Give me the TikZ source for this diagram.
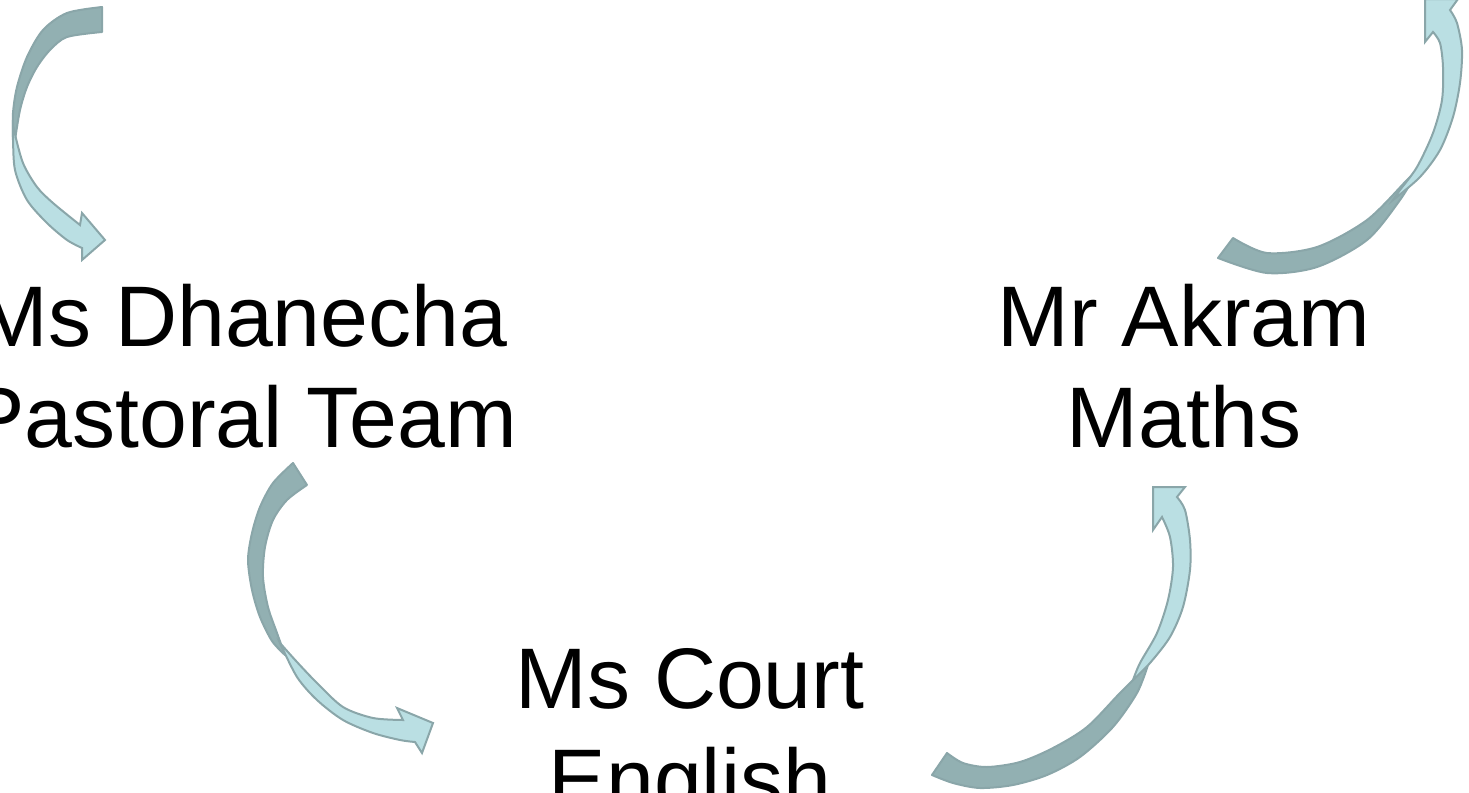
\documentclass[tikz,border=0pt]{standalone}
\usepackage{fontspec}
\setmainfont{Liberation Sans}
\definecolor{bandDark}{RGB}{146,176,178}
\definecolor{bandLight}{RGB}{186,223,227}
\definecolor{bandLine}{RGB}{138,166,169}
\tikzset{
  darkband/.style={fill=bandDark, draw=bandLine, line width=1pt, line join=round},
  lightband/.style={fill=bandLight, draw=bandLine, line width=1pt, line join=miter},
  who/.style={align=center, inner sep=0pt, anchor=base,
    font=\fontsize{43}{50.5}\selectfont}
}
\begin{document}
\begin{tikzpicture}[x=0.5pt, y=-0.5pt]
        \useasboundingbox (0,0) rectangle (1469,793);
        \clip (0,0) rectangle (1469,793);
        % names (base = last line)
        \node [who] (dhanecha) at (242,447) {Ms Dhanecha\\Pastoral Team};
        \node [who] (akram) at (1184,447) {Mr Akram\\Maths};
        \node [who] (court) at (690,809) {Ms Court\\English};
        % arrow top left
        \filldraw [darkband] plot [smooth] coordinates {(102,7) (67,13) (43,30) (27,57) (17,87) (13,113) (13,140)}
            -- plot [smooth] coordinates {(15,140) (20,110) (27,87) (37,67) (50,50) (67,37) (102,32)} -- cycle;
        \filldraw [lightband] plot [smooth] coordinates {(13,120) (13,137) (15,170) (27,200) (47,223) (67,240) (82,248)}
            -- (82,260) -- (105,240) -- (82,213) -- (80,225)
            -- plot [smooth] coordinates {(80,225) (53,203) (37,187) (23,163) (14,130) (13,120)} -- cycle;
        % arrow top right
        \filldraw [darkband] plot [smooth] coordinates {(1218,258) (1267,273) (1317,267) (1367,240) (1400,200) (1420,167)}
            -- plot [smooth] coordinates {(1420,167) (1407,180) (1367,220) (1317,247) (1267,253) (1233,238)} -- cycle;
        \filldraw [lightband] plot [smooth] coordinates {(1393,200) (1420,177) (1440,150) (1453,117) (1460,83) (1462,50) (1457,23) (1450,10)}
            -- (1458,-1) -- (1425,-1) -- (1425,42) -- (1433,32)
            -- plot [smooth] coordinates {(1433,32) (1440,43) (1443,67) (1442,100) (1433,133) (1417,167) (1400,190) (1393,200)} -- cycle;
        % arrow middle left
        \filldraw [darkband] plot [smooth] coordinates {(293,463) (273,483) (260,507) (252,533) (248,560) (252,590) (260,617) (272,641) (285,655)}
            -- plot [smooth] coordinates {(285,655) (277,633) (268,607) (263,577) (265,547) (273,520) (287,500) (307,485)} -- cycle;
        \filldraw [lightband] plot [smooth] coordinates {(280,643) (297,677) (317,700) (343,720) (373,733) (400,740) (415,742)}
            -- (422,753) -- (433,723) -- (397,708) -- (403,720)
            -- plot [smooth] coordinates {(403,720) (373,718) (343,707) (317,683) (297,662) (280,643)} -- cycle;
        % arrow bottom right
        \filldraw [darkband] plot [smooth] coordinates {(932,775) (953,783) (980,788) (1013,785) (1047,775) (1080,757) (1113,727) (1137,693) (1148,665)}
            -- plot [smooth] coordinates {(1148,665) (1120,693) (1087,727) (1053,748) (1020,762) (987,767) (963,763) (947,753)} -- cycle;
        \filldraw [lightband] plot [smooth] coordinates {(1133,680) (1150,663) (1170,637) (1183,607) (1190,570) (1190,540) (1185,510) (1177,497)}
            -- (1185,487) -- (1153,487) -- (1153,530) -- (1162,517)
            -- plot [smooth] coordinates {(1162,517) (1170,537) (1173,567) (1168,600) (1157,633) (1140,663) (1133,680)} -- cycle;
    \end{tikzpicture}
\end{document}
